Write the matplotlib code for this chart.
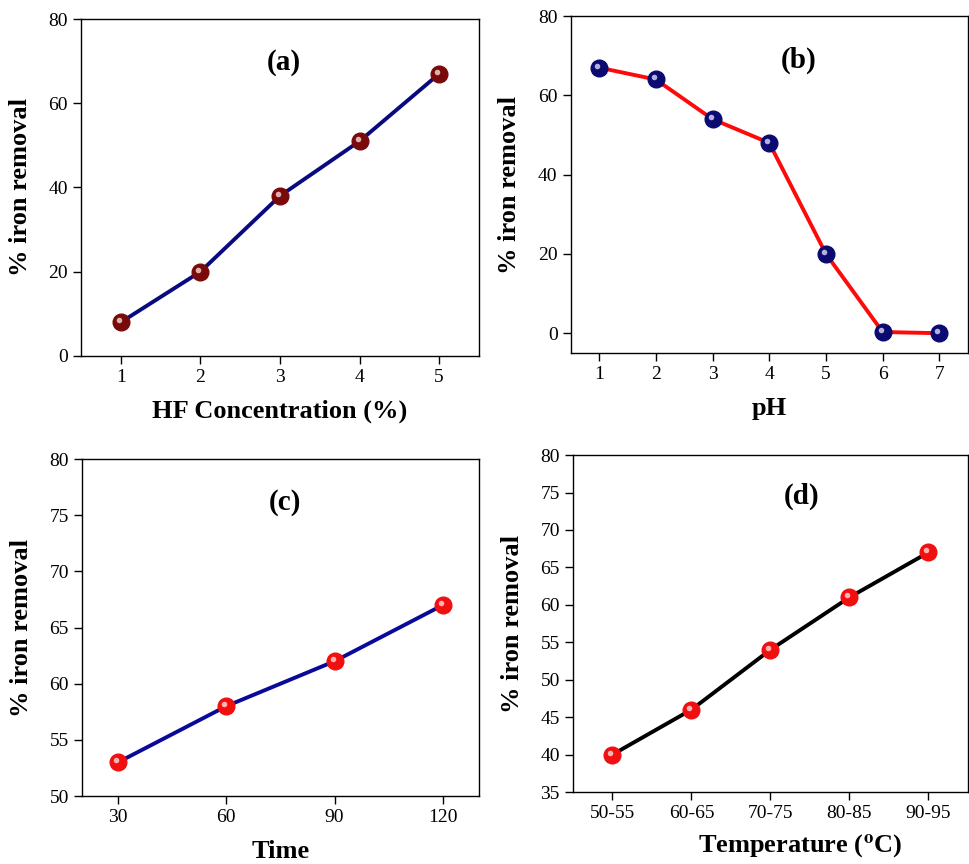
import matplotlib
matplotlib.use("Agg")
import matplotlib.pyplot as plt
from matplotlib.transforms import offset_copy

plt.rcParams['font.family'] = ['Liberation Serif', 'DejaVu Serif']
plt.rcParams['mathtext.fontset'] = 'stix'

# data
hf_conc = [1, 2, 3, 4, 5]
hf_removal = [8, 20, 38, 51, 67]

ph_values = [1, 2, 3, 4, 5, 6, 7]
ph_removal = [67, 64, 54, 48, 20, 0.3, 0]

time_values = [30, 60, 90, 120]
time_removal = [53, 58, 62, 67]

temp_labels = ['50-55', '60-65', '70-75', '80-85', '90-95']
temp_removal = [40, 46, 54, 61, 67]

fig = plt.figure(figsize=(9.69, 8.64), dpi=100)


def sphere_line(ax, x, y, line_color, ball_color, hl_color):
    ax.plot(x, y, '-', color=line_color, lw=2.8, zorder=2)
    ax.plot(x, y, 'o', color=ball_color, ms=12, mec=ball_color, zorder=3)
    # small highlight to fake the shaded sphere look
    tr = offset_copy(ax.transData, fig=fig, x=-2, y=2, units='dots')
    ax.plot(x, y, 'o', color=hl_color, ms=4, mec='none', alpha=0.85,
            transform=tr, zorder=4)


def style(ax, xlabel, tag, tag_x, tag_y):
    for s in ax.spines.values():
        s.set_linewidth(1.0)
    ax.tick_params(direction='out', length=6, width=1, labelsize=14,
                   top=False, right=False)
    ax.set_xlabel(xlabel, fontsize=19, fontweight='bold', labelpad=10)
    ax.set_ylabel('% iron removal', fontsize=19, fontweight='bold', labelpad=12)
    ax.text(tag_x, tag_y, tag, transform=ax.transAxes, fontsize=21,
            fontweight='bold', ha='center', va='center')


# (a)
ax1 = fig.add_axes([0.0836, 0.588, 0.4107, 0.390])
sphere_line(ax1, hf_conc, hf_removal, '#0a0a80', '#7a0a0a', '#f0d0d0')
ax1.set_xlim(0.5, 5.5)
ax1.set_ylim(0, 80)
ax1.set_xticks(hf_conc)
ax1.set_yticks([0, 20, 40, 60, 80])
style(ax1, 'HF Concentration (%)', '(a)', 0.51, 0.87)

# (b)
ax2 = fig.add_axes([0.589, 0.5914, 0.4097, 0.390])
sphere_line(ax2, ph_values, ph_removal, '#ff0a0a', '#0a0a70', '#d0d0f0')
ax2.set_xlim(0.5, 7.5)
ax2.set_ylim(-5, 80)
ax2.set_xticks(ph_values)
ax2.set_yticks([0, 20, 40, 60, 80])
style(ax2, 'pH', '(b)', 0.575, 0.87)

# (c)
ax3 = fig.add_axes([0.0846, 0.0787, 0.4097, 0.390])
sphere_line(ax3, time_values, time_removal, '#0a0a9a', '#f01010', '#ffd0d0')
ax3.set_xlim(20, 130)
ax3.set_ylim(50, 80)
ax3.set_xticks(time_values)
ax3.set_yticks([50, 55, 60, 65, 70, 75, 80])
style(ax3, 'Time', '(c)', 0.51, 0.872)

# (d)
ax4 = fig.add_axes([0.5913, 0.0833, 0.4076, 0.390])
temp_pos = list(range(len(temp_labels)))
sphere_line(ax4, temp_pos, temp_removal, '#000000', '#f01010', '#ffd0d0')
ax4.set_xlim(-0.5, 4.5)
ax4.set_ylim(35, 80)
ax4.set_xticks(temp_pos)
ax4.set_xticklabels(temp_labels)
ax4.set_yticks([35, 40, 45, 50, 55, 60, 65, 70, 75, 80])
style(ax4, r'Temperature ($^{\mathbf{o}}$C)', '(d)', 0.58, 0.878)
ax4.xaxis.set_label_coords(0.575, -0.12)

fig.savefig('out.png', dpi=100)
